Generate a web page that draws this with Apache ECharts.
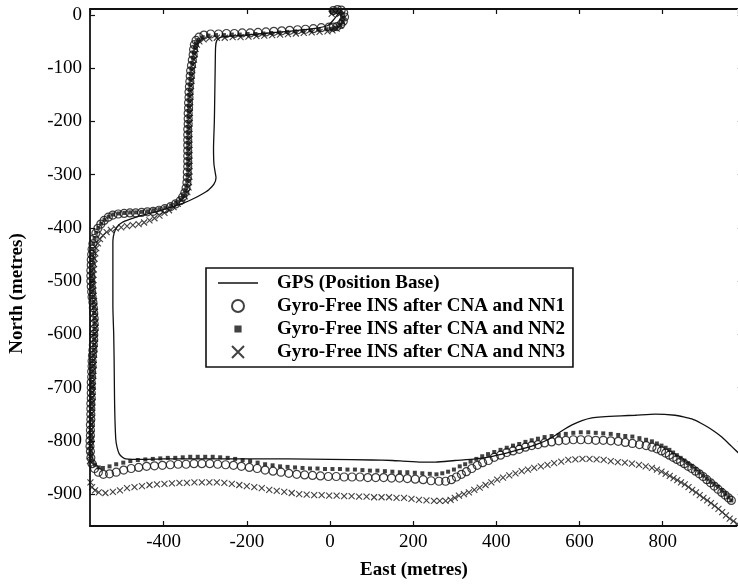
<!DOCTYPE html>
<html>
<head>
<meta charset="utf-8">
<script src="https://cdn.jsdelivr.net/npm/echarts@6/dist/echarts.min.js"></script>
<style>html,body{margin:0;padding:0;background:#fff}#c{width:738px;height:585px}</style>
</head>
<body>
<div id="c"></div>
<script>
const seriesNames = ['GPS (Position Base)', 'Gyro-Free INS after CNA and NN1', 'Gyro-Free INS after CNA and NN2', 'Gyro-Free INS after CNA and NN3'];
const xAxisTitle = 'East (metres)';
const yAxisTitle = 'North (metres)';

const gps = [[22,4],[10,-8],[-5,-20],[-40,-26],[-100,-31],[-160,-35],[-220,-39],[-262,-42],[-272,-48],[-275,-60],[-276,-100],[-277,-150],[-278,-200],[-280,-250],[-279,-280],[-276,-296],[-274,-306],[-279,-318],[-292,-329],[-306,-336],[-325,-344],[-354,-354],[-390,-363],[-419,-370],[-455,-377],[-482,-384],[-500,-390],[-512,-398],[-519,-410],[-522,-425],[-522,-480],[-522,-547],[-520,-600],[-519,-650],[-518,-722],[-517,-760],[-515,-797],[-512,-812],[-507,-824],[-499,-831],[-491,-834],[-450,-835],[-400,-834],[-300,-834],[-200,-834],[-100,-834],[0,-835],[100,-836],[150,-837],[174,-838],[220,-840],[254,-840],[300,-837],[350,-834],[385,-830],[414,-825],[448,-818],[478,-812],[503,-805],[526,-797],[543,-789],[558,-781],[582,-770],[606,-762],[630,-757],[654,-755],[700,-753],[734,-752],[782,-750],[830,-752],[850,-755],[870,-759],[892,-767],[910,-775],[927,-784],[942,-793],[965,-810],[985,-825]];

const nn1 = [[8,8],[18,10],[27,9],[33,4],[35,-4],[32,-12],[26,-18],[17,-22],[8,-23],
[-2,-23],[-21,-24],[-40,-26],[-59,-27],[-78,-28],[-97,-29],[-116,-30],[-135,-31],[-154,-32],[-173,-33],[-192,-34],[-211,-34],[-230,-35],[-249,-35],[-268,-36],[-287,-36],[-303,-38],[-315,-42],[-322,-48],[-326,-56],
[-328,-65],[-329,-75],[-331,-85],[-333,-95],[-335,-105],[-336,-115],[-337,-125],[-338,-135],[-339,-145],[-339,-155],[-340,-165],[-340,-175],[-341,-185],[-341,-195],[-341,-205],[-342,-215],[-342,-225],[-342,-235],[-342,-245],[-342,-255],[-342,-265],[-342,-275],[-342,-285],[-343,-295],[-343,-305],[-344,-315],[-346,-325],[-349,-334],[-354,-342],
[-360,-349],[-371,-355],[-383,-360],[-397,-364],[-411,-367],[-425,-369],[-439,-370],[-453,-371],[-467,-372],[-481,-372],[-495,-373],[-509,-374],[-522,-376],[-533,-380],[-543,-386],[-551,-393],[-558,-401],[-563,-410],[-567,-420],[-570,-430],
[-572,-440],[-573,-450],[-574,-460],[-574,-470],[-575,-480],[-575,-490],[-575,-500],[-574,-510],[-573,-520],[-572,-530],[-570,-540],[-569,-550],[-568,-560],[-567,-570],[-567,-580],[-567,-590],[-568,-600],[-568,-610],[-569,-620],[-570,-630],[-571,-640],[-572,-650],[-572,-660],[-573,-670],[-573,-680],[-574,-690],[-574,-700],[-574,-710],[-574,-720],[-575,-730],[-575,-740],[-575,-750],[-575,-760],[-576,-770],[-576,-780],[-576,-790],[-577,-800],[-577,-810],[-576,-820],[-575,-832],[-572,-843],[-566,-852],[-557,-859],[-545,-863],
[-530,-862],[-514,-859],[-496,-855],[-478,-852],[-460,-850],[-441,-848],[-422,-847],[-403,-846],[-384,-845],[-365,-844],[-346,-844],[-327,-843],[-308,-843],[-289,-843],[-270,-844],[-251,-845],[-232,-846],[-213,-848],[-194,-850],[-175,-852],[-156,-855],[-137,-857],[-118,-859],[-99,-861],[-80,-863],[-61,-864],[-42,-865],[-23,-866],[-4,-867],[15,-867],[34,-868],[53,-868],[72,-868],[91,-869],[110,-869],[129,-869],[148,-870],[167,-870],[186,-871],[205,-872],[224,-873],[243,-875],[262,-876],[278,-876],[292,-873],[304,-868],[316,-863],[328,-858],[341,-852],[354,-846],[367,-841],[381,-837],[395,-831],[410,-827],[425,-822],[440,-819],[455,-816],[470,-812],[485,-809],[500,-807],[516,-804],[533,-802],[550,-800],[567,-799],[585,-798],[603,-798],[621,-798],[639,-799],[657,-799],[675,-800],[693,-801],[710,-803],[727,-805],[744,-807],[760,-809],[774,-812],[786,-815],[797,-819],[807,-823],[816,-827],[825,-831],[834,-835],[843,-839],[852,-843],[861,-848],[870,-852],[879,-857],[888,-862],[897,-867],[906,-873],[915,-879],[924,-885],[933,-891],[942,-897],[950,-902],[958,-907],[965,-912]];

const nn2 = [[6,6],[16,8],[25,7],[31,2],[33,-6],[30,-14],[23,-20],[14,-24],[4,-26],
[-8,-27],[-27,-28],[-46,-29],[-65,-30],[-84,-31],[-103,-32],[-122,-33],[-141,-34],[-160,-35],[-179,-36],[-198,-36],[-217,-37],[-236,-37],[-255,-38],[-274,-38],[-292,-39],[-306,-42],[-316,-47],[-322,-54],
[-325,-62],[-327,-72],[-329,-82],[-331,-92],[-333,-102],[-334,-112],[-335,-122],[-336,-132],[-337,-142],[-338,-152],[-338,-162],[-339,-172],[-339,-182],[-340,-192],[-340,-202],[-340,-212],[-341,-222],[-341,-232],[-341,-242],[-341,-252],[-341,-262],[-341,-272],[-341,-282],[-341,-292],[-342,-302],[-343,-312],[-345,-322],[-348,-331],[-353,-340],
[-359,-347],[-370,-353],[-382,-358],[-396,-362],[-410,-365],[-424,-367],[-438,-369],[-452,-370],[-466,-371],[-480,-371],[-494,-372],[-508,-373],[-521,-375],[-532,-379],[-542,-385],[-550,-392],[-557,-400],[-562,-409],[-566,-419],[-569,-429],
[-571,-440],[-572,-450],[-572,-460],[-573,-470],[-573,-480],[-573,-490],[-573,-500],[-572,-510],[-571,-520],[-570,-530],[-569,-540],[-568,-550],[-567,-560],[-566,-570],[-566,-580],[-566,-590],[-566,-600],[-567,-610],[-567,-620],[-568,-630],[-569,-640],[-570,-650],[-570,-660],[-571,-670],[-571,-680],[-572,-690],[-572,-700],[-572,-710],[-573,-720],[-573,-730],[-573,-740],[-574,-750],[-574,-760],[-574,-770],[-575,-780],[-575,-790],[-575,-800],[-575,-810],[-575,-820],[-574,-830],[-571,-839],[-565,-845],
[-556,-850],[-546,-851],[-530,-848],[-514,-844],[-497,-841],[-480,-838],[-462,-836],[-444,-835],[-426,-834],[-408,-833],[-390,-832],[-372,-832],[-354,-831],[-336,-830],[-318,-830],[-300,-830],[-282,-830],[-264,-831],[-246,-832],[-228,-834],[-210,-836],[-192,-838],[-174,-841],[-156,-844],[-138,-846],[-120,-848],[-102,-849],[-84,-850],[-66,-851],[-48,-852],[-30,-852],[-12,-853],[6,-853],[24,-853],[42,-854],[60,-854],[78,-855],[96,-856],[114,-856],[132,-857],[150,-858],[168,-859],[186,-859],[204,-860],[222,-861],[240,-862],[256,-863],[270,-861],[284,-858],[298,-854],[312,-848],[325,-844],[338,-839],[352,-834],[366,-829],[380,-825],[395,-821],[410,-817],[425,-813],[440,-809],[455,-806],[470,-802],[485,-799],[500,-796],[516,-793],[533,-791],[550,-789],[567,-787],[585,-785],[603,-784],[621,-784],[639,-785],[657,-786],[675,-787],[693,-789],[710,-791],[727,-792],[744,-795],[760,-798],[774,-801],[786,-805],[797,-809],[807,-813],[816,-817],[825,-822],[834,-827],[843,-832],[852,-837],[861,-842],[870,-847],[879,-853],[888,-859],[897,-865],[906,-871],[915,-877],[924,-882],[933,-886],[942,-893],[950,-899],[958,-906],[965,-912]];

const nn3 = [[4,2],[14,4],[24,2],[30,-5],[30,-13],[25,-20],[16,-26],[6,-29],
[-6,-31],[-25,-32],[-44,-33],[-63,-34],[-82,-35],[-101,-36],[-120,-37],[-139,-38],[-158,-39],[-177,-40],[-196,-41],[-215,-42],[-234,-42],[-253,-43],[-272,-43],[-290,-44],[-304,-46],[-314,-50],[-320,-56],
[-323,-64],[-325,-74],[-327,-84],[-329,-94],[-331,-104],[-332,-114],[-333,-124],[-334,-134],[-335,-144],[-336,-154],[-336,-164],[-337,-174],[-337,-184],[-337,-194],[-338,-204],[-338,-214],[-338,-224],[-338,-234],[-338,-244],[-338,-254],[-338,-264],[-338,-274],[-338,-284],[-338,-294],[-338,-304],[-339,-314],[-340,-324],
[-343,-333],[-349,-341],[-357,-348],[-366,-355],[-376,-361],[-387,-367],[-398,-372],[-410,-377],[-422,-382],[-434,-386],[-447,-390],[-460,-393],[-474,-395],[-488,-397],[-502,-399],[-515,-401],[-527,-404],[-537,-408],[-546,-414],[-553,-421],[-558,-429],[-562,-438],
[-564,-448],[-566,-458],[-567,-468],[-568,-478],[-569,-488],[-569,-498],[-569,-508],[-569,-518],[-568,-528],[-567,-538],[-566,-548],[-565,-558],[-565,-568],[-564,-578],[-564,-588],[-565,-598],[-565,-608],[-566,-618],[-566,-628],[-567,-638],[-568,-648],[-568,-658],[-569,-668],[-569,-678],[-570,-688],[-570,-698],[-571,-708],[-571,-718],[-571,-728],[-572,-738],[-572,-748],[-573,-758],[-573,-768],[-574,-778],[-574,-788],[-575,-798],[-575,-808],[-576,-818],[-576,-828],[-577,-838],[-578,-848],[-578,-858],[-578,-868],[-576,-878],[-572,-887],[-565,-893],
[-556,-897],[-540,-898],[-522,-896],[-505,-893],[-488,-889],[-470,-887],[-452,-885],[-434,-883],[-416,-882],[-398,-881],[-380,-880],[-362,-879],[-344,-879],[-326,-878],[-308,-878],[-290,-878],[-272,-878],[-254,-879],[-236,-881],[-218,-883],[-200,-885],[-182,-887],[-164,-889],[-146,-892],[-128,-894],[-110,-896],[-92,-898],[-74,-900],[-56,-901],[-38,-902],[-20,-902],[-2,-903],[16,-903],[34,-904],[52,-904],[70,-905],[88,-905],[106,-906],[124,-906],[142,-906],[160,-907],[178,-907],[196,-909],[214,-911],[232,-912],[250,-913],[264,-913],[278,-913],[290,-911],[300,-907],[310,-903],[322,-900],[334,-897],[347,-892],[360,-888],[374,-883],[388,-878],[402,-873],[416,-869],[431,-865],[446,-861],[461,-857],[476,-854],[491,-851],[507,-848],[523,-845],[539,-842],[556,-839],[573,-836],[590,-835],[607,-834],[624,-834],[641,-835],[658,-836],[675,-838],[692,-840],[709,-841],[726,-843],[743,-845],[759,-848],[774,-851],[786,-854],[797,-858],[807,-862],[817,-866],[826,-870],[835,-874],[844,-878],[853,-882],[862,-887],[871,-892],[880,-897],[889,-902],[898,-907],[907,-912],[916,-917],[925,-922],[934,-928],[943,-934],[952,-940],[961,-946],[970,-951],[979,-956],[986,-960]];

const xRange = [-577, 981];
const yRange = [-960, 11];

const chart = echarts.init(document.getElementById('c'), null, {renderer: 'canvas'});
const serif = 'Liberation Serif, Times New Roman, serif';
const ink = '#111';
const axisBase = {
  type: 'value',
  axisLine: {show: true, onZero: false, lineStyle: {color: ink, width: 1.8}},
  axisTick: {show: true, inside: true, length: 5, lineStyle: {color: ink, width: 1.2}},
  splitLine: {show: false},
};
chart.setOption({
  animation: false,
  backgroundColor: '#fff',
  grid: {left: 87, right: 0, top: 9, bottom: 58, containLabel: false},
  xAxis: [
    Object.assign({}, axisBase, {
      position: 'bottom', min: xRange[0], max: xRange[1], splitNumber: 8, minInterval: 200, maxInterval: 200,
      axisLabel: {color: '#000', fontFamily: serif, fontSize: 19, margin: 7, showMinLabel: false, showMaxLabel: false},
      name: xAxisTitle, nameLocation: 'middle', nameGap: 35,
      nameTextStyle: {color: '#000', fontFamily: serif, fontSize: 19, fontWeight: 'bold'}
    }),
    Object.assign({}, axisBase, {
      position: 'top', min: xRange[0], max: xRange[1], splitNumber: 8, minInterval: 200, maxInterval: 200,
      axisLabel: {show: false}
    })
  ],
  yAxis: [
    Object.assign({}, axisBase, {
      position: 'left', min: yRange[0], max: yRange[1], splitNumber: 10, minInterval: 100, maxInterval: 100,
      axisLabel: {color: '#000', fontFamily: serif, fontSize: 19, margin: 8, showMinLabel: false, showMaxLabel: false},
      name: yAxisTitle, nameLocation: 'middle', nameGap: 63,
      nameTextStyle: {color: '#000', fontFamily: serif, fontSize: 19, fontWeight: 'bold', padding: [0, 52, 0, 0]}
    }),
    {
      type: 'value', position: 'right', min: yRange[0], max: yRange[1], splitNumber: 10, minInterval: 100, maxInterval: 100,
      axisLine: {show: true, onZero: false, lineStyle: {color: '#bbb', width: 1}},
      axisTick: {show: true, inside: true, length: 1, lineStyle: {color: '#ccc', width: 1}},
      splitLine: {show: false},
      axisLabel: {show: false}
    }
  ],
  legend: {
    orient: 'vertical', left: 206, top: 268,
    backgroundColor: '#fff', borderColor: ink, borderWidth: 1.6,
    padding: [4, 8, 4, 12], itemGap: 1, itemWidth: 40, itemHeight: 12,
    selectedMode: false,
    textStyle: {color: '#000', fontFamily: serif, fontSize: 19, fontWeight: 'bold', lineHeight: 22, padding: [0, 0, 0, 14]},
    data: [
      {name: seriesNames[0], icon: 'path://M0,0L40,0L40,1.4L0,1.4Z'},
      {name: seriesNames[1], icon: 'circle'},
      {name: seriesNames[2], icon: 'path://M0,0L10,10M2,2L8,2L8,8L2,8Z'},
      {name: seriesNames[3], icon: 'path://M0,0L10,10M10,0L0,10'}
    ]
  },
  series: [
    {name: seriesNames[0], type: 'line', data: gps, showSymbol: false, symbol: 'none', smooth: 0.2,
     lineStyle: {color: ink, width: 1.3}, itemStyle: {color: ink}, z: 2},
    {name: seriesNames[1], type: 'scatter', data: nn1, symbol: 'circle', symbolSize: 8,
     itemStyle: {color: 'rgba(255,255,255,0)', borderColor: ink, borderWidth: 1.2}, z: 3},
    {name: seriesNames[2], type: 'scatter', data: nn2, symbol: 'rect', symbolSize: 4,
     itemStyle: {color: ink, borderWidth: 0}, z: 4},
    {name: seriesNames[3], type: 'scatter', data: nn3, symbol: 'path://M0,0L10,10M10,0L0,10', symbolSize: 6,
     itemStyle: {color: 'rgba(0,0,0,0)', borderColor: ink, borderWidth: 1.1}, z: 5}
  ]
});
</script>
</body>
</html>
